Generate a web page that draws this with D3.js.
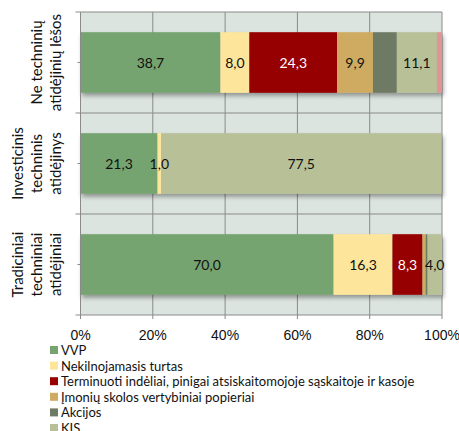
<!DOCTYPE html>
<html>
<head>
<meta charset="utf-8">
<script src="https://cdn.jsdelivr.net/npm/d3@7"></script>
<style>
  body { margin: 0; background: #fff; }
  svg { display: block; }
</style>
</head>
<body>
<svg id="chart" width="459" height="431"></svg>
<script>
// kategorijos (iš viršaus į apačią)
var categories = [
  ["Ne techninių", "atidėjinių lėšos"],
  ["Investicinis", "techninis", "atidėjinys"],
  ["Tradiciniai", "techniniai", "atidėjiniai"]
];
var categoryKeys = ["ne", "inv", "trad"];

var seriesNames = [
  "VVP",
  "Nekilnojamasis turtas",
  "Terminuoti indėliai, pinigai atsiskaitomojoje sąskaitoje ir kasoje",
  "Įmonių skolos vertybiniai popieriai",
  "Akcijos",
  "KIS",
  "Kita"
];
var seriesColors = ["#76a46f", "#fde59b", "#960000", "#cfab62", "#6e7a64", "#b8c098", "#e09494"];
var showLabels = [true, true, true, true, false, true, false];

var vvp      = [38.7, 21.3, 70.0];
var nekiln   = [8.0, 1.0, 16.3];
var termin   = [24.3, 0, 8.3];
var imoniu   = [9.9, 0, 0.9];
var akcijos  = [6.6, 0, 0.5];
var kis      = [11.1, 77.5, 4.0];
var kita     = [1.4, 0.2, 0];

var xTicks = [0, 20, 40, 60, 80, 100];

var seriesValues = [vvp, nekiln, termin, imoniu, akcijos, kis, kita];

var svg = d3.select("#chart");

var plotLeft = 80.5, plotRight = 442, plotTop = 12, plotBottom = 315;

var x = d3.scaleLinear().domain([0, 100]).range([plotLeft, plotRight]);
var y = d3.scaleBand().domain(categoryKeys).range([plotTop, plotBottom]).paddingInner(0).paddingOuter(0);

var defs = svg.append("defs");
var shadow = defs.append("filter").attr("id", "shadow")
    .attr("x", "-5%").attr("y", "-20%").attr("width", "110%").attr("height", "150%");
shadow.append("feDropShadow")
    .attr("dx", 1.5).attr("dy", 3).attr("stdDeviation", 2)
    .attr("flood-color", "#000").attr("flood-opacity", 0.35);

// plot background
svg.append("rect")
    .attr("x", plotLeft).attr("y", plotTop)
    .attr("width", plotRight - plotLeft).attr("height", plotBottom - plotTop)
    .style("fill", "#dce4df");

// grid lines
var gridColor = "#8a8a8a";
svg.append("g").selectAll("line")
    .data(xTicks.slice(1))
    .enter().append("line")
    .attr("x1", function(d){ return x(d); })
    .attr("x2", function(d){ return x(d); })
    .attr("y1", plotTop).attr("y2", plotBottom)
    .style("stroke", gridColor).style("stroke-width", 1);

var boundaries = categoryKeys.map(function(k){ return y(k); });
svg.append("g").selectAll("line")
    .data(boundaries)
    .enter().append("line")
    .attr("x1", plotLeft - 5).attr("x2", plotRight)
    .attr("y1", function(d){ return d; })
    .attr("y2", function(d){ return d; })
    .style("stroke", gridColor).style("stroke-width", 1);

// stacked bars
var rows = categoryKeys.map(function(k, i){
  var acc = 0;
  return seriesValues.map(function(vals, s){
    var seg = {cat: k, series: s, value: vals[i], x0: acc, x1: acc + vals[i]};
    acc += vals[i];
    return seg;
  });
});
var segments = [].concat.apply([], rows).filter(function(d){ return d.value > 0; });

var barH = y.bandwidth() * 0.6;
var barOff = (y.bandwidth() - barH) / 2;

svg.append("g")
    .attr("filter", "url(#shadow)")
    .selectAll("rect")
    .data(segments)
    .enter().append("rect")
    .attr("x", function(d){ return x(d.x0); })
    .attr("width", function(d){ return x(d.x1) - x(d.x0); })
    .attr("y", function(d){ return y(d.cat) + barOff; })
    .attr("height", barH)
    .style("fill", function(d){ return seriesColors[d.series]; });

// data labels
svg.append("g").selectAll("text")
    .data(segments.filter(function(d){ return showLabels[d.series] && d.value >= 1; }))
    .enter().append("text")
    .attr("x", function(d){ return x((d.x0 + d.x1) / 2); })
    .attr("y", function(d){ return y(d.cat) + y.bandwidth() / 2; })
    .attr("text-anchor", "middle")
    .attr("dominant-baseline", "central")
    .style("font-family", "Lato, 'Open Sans', sans-serif")
    .style("font-size", "14px")
    .style("fill", function(d){ return d.series === 2 ? "#fff" : "#111"; })
    .text(function(d){ return d3.format(".1f")(d.value).replace(".", ","); });

// left axis
svg.append("line")
    .attr("x1", plotLeft).attr("x2", plotLeft).attr("y1", plotTop).attr("y2", plotBottom + 4)
    .style("stroke", gridColor);
svg.append("line")
    .attr("x1", plotLeft - 5).attr("x2", plotRight).attr("y1", plotBottom).attr("y2", plotBottom)
    .style("stroke", gridColor);
svg.append("g").selectAll("line")
    .data(categoryKeys)
    .enter().append("line")
    .attr("x1", plotLeft - 3).attr("x2", plotLeft)
    .attr("y1", function(d){ return y(d) + y.bandwidth() / 2; })
    .attr("y2", function(d){ return y(d) + y.bandwidth() / 2; })
    .style("stroke", gridColor);

// bottom ticks
svg.append("g").selectAll("line")
    .data(xTicks)
    .enter().append("line")
    .attr("x1", function(d){ return x(d); })
    .attr("x2", function(d){ return x(d); })
    .attr("y1", plotBottom).attr("y2", plotBottom + 4)
    .style("stroke", gridColor);

svg.append("g").selectAll("text")
    .data(xTicks)
    .enter().append("text")
    .attr("x", function(d){ return x(d); })
    .attr("y", 340)
    .attr("text-anchor", "middle")
    .style("font-family", "'Liberation Sans', Arial, sans-serif")
    .style("font-size", "14px")
    .style("fill", "#111")
    .text(function(d){ return d + "%"; });

// category labels (rotated)
var catLabels = svg.append("g").selectAll("g")
    .data(categoryKeys)
    .enter().append("g")
    .attr("transform", function(d){
      return "translate(0," + (y(d) + y.bandwidth() / 2) + ") rotate(-90)";
    });
catLabels.each(function(d, i){
  var lines = categories[i];
  var g = d3.select(this);
  var lineH = 19;
  var lastX = 61;
  lines.forEach(function(t, j){
    g.append("text")
      .attr("x", 0)
      .attr("y", lastX - (lines.length - 1 - j) * lineH)
      .attr("text-anchor", "middle")
      .style("font-family", "Lato, 'Open Sans', sans-serif")
      .style("font-size", "15px")
      .style("fill", "#111")
      .text(t);
  });
});

// legend
var legend = svg.append("g").selectAll("g")
    .data(seriesNames)
    .enter().append("g")
    .attr("transform", function(d, i){ return "translate(50," + (350 + i * 15.6) + ")"; });
legend.append("rect")
    .attr("x", 0).attr("y", -4)
    .attr("width", 8).attr("height", 8)
    .style("fill", function(d, i){ return seriesColors[i]; });
legend.append("text")
    .attr("x", 11).attr("y", 0)
    .attr("dominant-baseline", "central")
    .style("font-family", "Lato, 'Open Sans', sans-serif")
    .style("font-size", "13px")
    .style("fill", "#111")
    .text(function(d){ return d; });
</script>
</body>
</html>
